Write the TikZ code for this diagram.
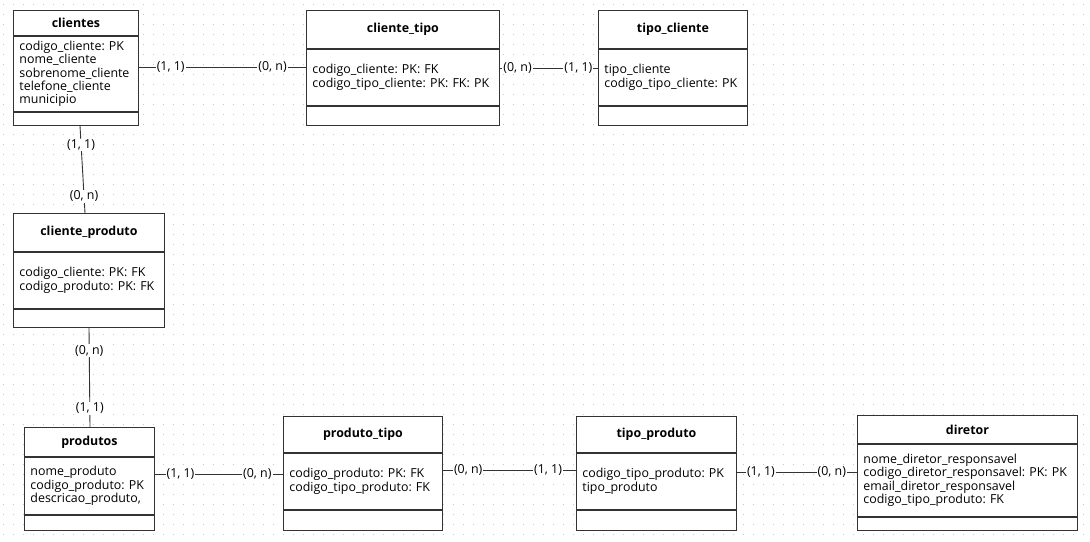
\documentclass[tikz,border=0pt]{standalone}
\usepackage{fontspec}
\setmainfont{Open Sans}
\usetikzlibrary{positioning}
\frenchspacing

\definecolor{linha}{HTML}{333333}
\definecolor{ponto}{HTML}{C8C8C8}

\newcommand{\letra}{\fontsize{12.4}{13.3}\selectfont}

\tikzset{
  cabeca/.style={draw=linha, line width=0.9pt, fill=white, font=\letra\bfseries, inner sep=0pt},
  atributos/.style={draw=linha, line width=0.9pt, fill=white, align=left, inner xsep=6pt, inner ysep=0pt},
  rodape/.style={draw=linha, line width=0.9pt, fill=white, inner sep=0pt},
  card/.style={fill=white, inner sep=1pt},
  ligacao/.style={draw=linha, line width=0.9pt},
  grade/.style={ponto, line width=1pt, dash pattern=on 1pt off 9pt},
}

% \entidade{nome}{x}{y}{largura}{h cabeca}{h atributos}{h rodape}{titulo}{atributos}
\newcommand{\entidade}[9]{%
  \pgfmathsetmacro\largtexto{#4-12}
  \node[cabeca, minimum width=#4pt, minimum height=#5pt, anchor=north west] (#1) at (#2,#3) {#8};
  \node[atributos, text width=\largtexto pt, minimum height=#6pt, anchor=north] (#1-attr) at (#1.south) {#9};
  \node[rodape, minimum width=#4pt, minimum height=#7pt, anchor=north] (#1-rod) at (#1-attr.south) {};
}

\begin{document}
\begin{tikzpicture}[x=1pt, y=-1pt, font=\letra]
  % fundo
  \fill[white] (0,0) rectangle (1090,541);
  \useasboundingbox (0,0) rectangle (1090,541);
  \foreach \y in {4,14,...,534} {
    \draw[grade] (3,\y) -- (1090,\y);
  }

  % entidades
  \entidade{clientes}{13}{10}{125}{25}{75}{13}{clientes}{codigo\_cliente: PK\\nome\_cliente\\sobrenome\_cliente\\telefone\_cliente\\municipio}
  \entidade{clientetipo}{306}{10}{193}{38}{56}{19}{cliente\_tipo}{codigo\_cliente: PK: FK\\codigo\_tipo\_cliente: PK: FK: PK}
  \entidade{tipocliente}{598}{10}{149}{38}{56}{19}{tipo\_cliente}{tipo\_cliente\\codigo\_tipo\_cliente: PK}
  \entidade{clienteproduto}{13}{213}{151}{38}{56}{18}{cliente\_produto}{codigo\_cliente: PK: FK\\codigo\_produto: PK: FK}
  \entidade{produtos}{24}{427}{130}{29}{57}{15}{produtos}{nome\_produto\\codigo\_produto: PK\\descricao\_produto,}
  \entidade{produtotipo}{283}{416}{159}{36}{56}{20}{produto\_tipo}{codigo\_produto: PK: FK\\codigo\_tipo\_produto: FK}
  \entidade{tipoproduto}{576}{416}{160}{36}{56}{20}{tipo\_produto}{codigo\_tipo\_produto: PK\\tipo\_produto}
  \entidade{diretor}{857}{415}{220}{28}{72}{13}{diretor}{nome\_diretor\_responsavel\\codigo\_diretor\_responsavel: PK: PK\\email\_diretor\_responsavel\\codigo\_tipo\_produto: FK}

  % relacionamentos
  \draw[ligacao] (clientes-attr.east |- 0,67) -- node[card, pos=0.19] {(1, 1)} node[card, pos=0.80] {(0, n)} (clientetipo-attr.west |- 0,67);
  \draw[ligacao] (clientetipo-attr.east |- 0,68) -- node[card, pos=0.18] {(0, n)} node[card, pos=0.80] {(1, 1)} (tipocliente-attr.west |- 0,68);
  \draw[ligacao] (clientes-rod.south -| 80,0) -- node[card, pos=0.22] {(1, 1)} node[card, pos=0.81] {(0, n)} (clienteproduto.north -| 85,0);
  \draw[ligacao] (clienteproduto-rod.south -| 89,0) -- node[card, pos=0.23] {(0, n)} node[card, pos=0.81] {(1, 1)} (produtos.north -| 90,0);
  \draw[ligacao] (produtos-attr.east |- 0,474) -- node[card, pos=0.20] {(1, 1)} node[card, pos=0.80] {(0, n)} (produtotipo-attr.west |- 0,474);
  \draw[ligacao] (produtotipo-attr.east |- 0,470) -- node[card, pos=0.19] {(0, n)} node[card, pos=0.79] {(1, 1)} (tipoproduto-attr.west |- 0,470);
  \draw[ligacao] (tipoproduto-attr.east |- 0,472) -- node[card, pos=0.20] {(1, 1)} node[card, pos=0.79] {(0, n)} (diretor-attr.west |- 0,472);
\end{tikzpicture}
\end{document}
